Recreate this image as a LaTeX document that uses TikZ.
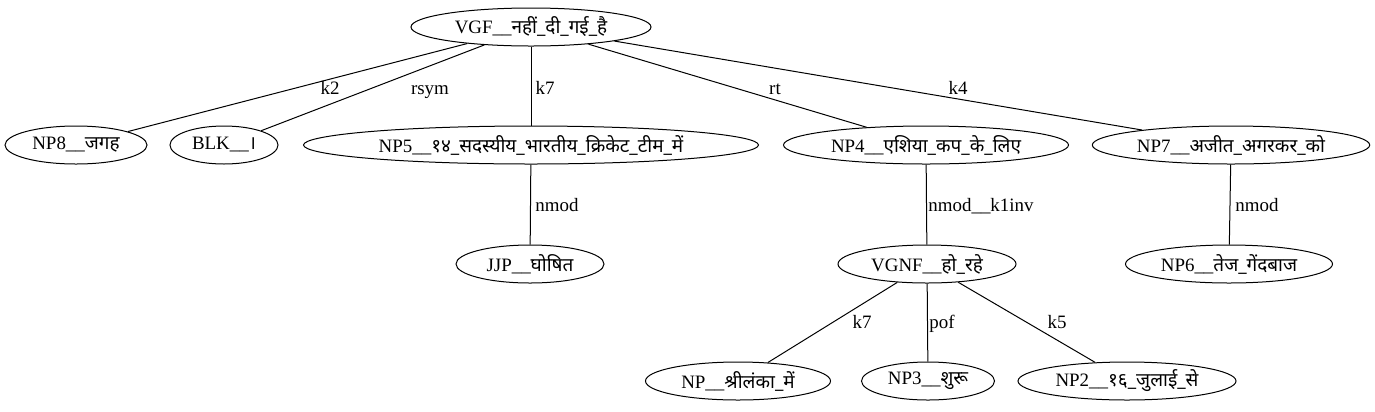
\documentclass[tikz,border=0pt]{standalone}
\usepackage{fontspec}
\setmainfont{Liberation Serif}
\newfontfamily\devfont[Script=Devanagari]{Noto Sans}
\newcommand\hi[1]{{\devfont #1}}
\usetikzlibrary{shapes.geometric}

\begin{document}
\begin{tikzpicture}[x=1bp, y=-1bp, line width=1bp,
    tok/.style={draw, ellipse, minimum height=38bp, inner xsep=4bp, inner ysep=1bp,
        font=\fontsize{19}{22}\selectfont},
    lbl/.style={inner sep=0pt, anchor=base, font=\fontsize{19}{22}\selectfont}]
    \useasboundingbox (0, 0) rectangle (1375, 411);

    \node[tok, minimum width=240bp] (vgf) at (531, 27) {VGF\_\_\hi{नहीं\_दी\_गई\_है}};

    \node[tok, minimum width=142bp] (np8) at (76, 145) {NP8\_\_\hi{जगह}};
    \node[tok, minimum width=108bp] (blk) at (224, 145) {BLK\_\_\hi{।}};
    \node[tok, minimum width=455bp] (np5) at (531, 145) {NP5\_\_\hi{१४\_सदस्यीय\_भारतीय\_क्रिकेट\_टीम\_में}};
    \node[tok, minimum width=285bp] (np4) at (926, 145) {NP4\_\_\hi{एशिया\_कप\_के\_लिए}};
    \node[tok, minimum width=275bp] (np7) at (1231, 145) {NP7\_\_\hi{अजीत\_अगरकर\_को}};

    \node[tok, minimum width=148bp] (jjp) at (530, 264) {JJP\_\_\hi{घोषित}};
    \node[tok, minimum width=178bp] (vgnf) at (927, 264) {VGNF\_\_\hi{हो\_रहे}};
    \node[tok, minimum width=207bp] (np6) at (1229, 264) {NP6\_\_\hi{तेज\_गेंदबाज}};

    \node[tok, minimum width=185bp] (np) at (738, 381) {NP\_\_\hi{श्रीलंका\_में}};
    \node[tok, minimum width=133bp] (np3) at (928, 381) {NP3\_\_\hi{शुरू}};
    \node[tok, minimum width=218bp] (np2) at (1127, 381) {NP2\_\_\hi{१६\_जुलाई\_से}};

    \draw (vgf) -- (np8) node[lbl] at (330, 94) {k2};
    \draw (vgf) -- (blk) node[lbl] at (430, 94) {rsym};
    \draw (vgf) -- (np5) node[lbl] at (545, 94) {k7};
    \draw (vgf) -- (np4) node[lbl] at (775, 94) {rt};
    \draw (vgf) -- (np7) node[lbl] at (958, 94) {k4};

    \draw (np5) -- (jjp) node[lbl] at (557, 211) {nmod};
    \draw (np4) -- (vgnf) node[lbl] at (981, 211) {nmod\_\_k1inv};
    \draw (np7) -- (np6) node[lbl] at (1257, 211) {nmod};

    \draw (vgnf) -- (np) node[lbl] at (862, 328) {k7};
    \draw (vgnf) -- (np3) node[lbl] at (942, 328) {pof};
    \draw (vgnf) -- (np2) node[lbl] at (1057, 328) {k5};
\end{tikzpicture}
\end{document}
